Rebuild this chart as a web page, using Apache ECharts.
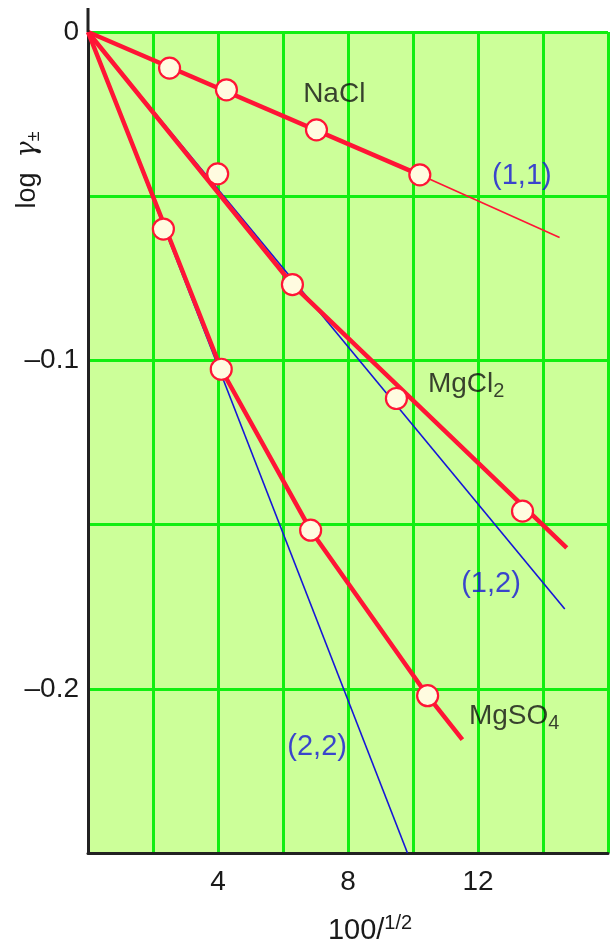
<!DOCTYPE html>
<html>
<head>
<meta charset="utf-8">
<script src="https://cdn.jsdelivr.net/npm/echarts@6/dist/echarts.min.js"></script>
<style>
html,body{margin:0;padding:0;background:#fff;}
#c{width:611px;height:942px;}
</style>
</head>
<body>
<div id="c"></div>
<script>
// ---- data ----
const naclX = [2.51, 4.26, 7.03, 10.21];
const naclY = [-0.0110, -0.0176, -0.0298, -0.0435];
const mgcl2X = [3.99, 6.29, 9.49, 13.37];
const mgcl2Y = [-0.0432, -0.0769, -0.1116, -0.1459];
const mgso4X = [2.32, 4.10, 6.85, 10.45];
const mgso4Y = [-0.0600, -0.1027, -0.1517, -0.2021];

const naclLineX = [0, 10.21];
const naclLineY = [0, -0.0435];
const naclExtX = [10.21, 14.51];
const naclExtY = [-0.0435, -0.0626];
const mgcl2LineX = [0, 6.29, 14.73];
const mgcl2LineY = [0, -0.0769, -0.1571];
const mgso4LineX = [0, 4.10, 6.85, 10.45, 11.52];
const mgso4LineY = [0, -0.1027, -0.1517, -0.2021, -0.2155];
const lim12X = [0, 14.67];
const lim12Y = [0, -0.1757];
const lim22X = [0, 9.83];
const lim22Y = [0, -0.25];

const xTickLabels = [4, 8, 12];
const yTickLabels = [0, -0.1, -0.2];

const saltNames = ['NaCl', 'MgCl{s|2}', 'MgSO{s|4}'];
const saltLabelX = [6.62, 10.46, 11.72];
const saltLabelY = [-0.0191, -0.1073, -0.2085];
const limNames = ['(1,1)', '(1,2)', '(2,2)'];
const limLabelX = [13.35, 12.4, 7.05];
const limLabelY = [-0.0438, -0.168, -0.2176];

// ---- build ----
const zip = (xs, ys) => xs.map((x, i) => [x, ys[i]]);
const RED = '#ff1535';
const BLUE = '#1515d8';
const FONT = '"Liberation Sans", Arial, sans-serif';

const chart = echarts.init(document.getElementById('c'), null, {renderer: 'canvas'});
const gridLeft = 88, gridTop = 32, gridBottom = 89;

const option = {
  animation: false,
  backgroundColor: '#ffffff',
  grid: {left: gridLeft, right: 0, top: gridTop, bottom: gridBottom, show: true,
         backgroundColor: '#ccff99', borderWidth: 0},
  xAxis: {
    type: 'value', min: 0, max: 16, interval: 2,
    axisLine: {show: true, onZero: false, lineStyle: {color: '#222', width: 3}},
    axisTick: {show: false},
    splitLine: {show: true, lineStyle: {color: '#11ee11', width: 3}},
    axisLabel: {
      margin: 15, fontSize: 28, color: '#1a1a1a', fontFamily: FONT,
      formatter: v => xTickLabels.indexOf(Math.round(v)) >= 0 && Math.abs(v - Math.round(v)) < 1e-6 ? String(Math.round(v)) : ''
    }
  },
  yAxis: {
    type: 'value', min: -0.25, max: 0, interval: 0.05,
    axisLine: {show: true, onZero: false, lineStyle: {color: '#222', width: 3}},
    axisTick: {show: false},
    splitLine: {show: true, lineStyle: {color: '#11ee11', width: 3}},
    axisLabel: {
      margin: 9, fontSize: 28, color: '#1a1a1a', fontFamily: FONT,
      formatter: v => {
        const hit = yTickLabels.find(t => Math.abs(t - v) < 1e-6);
        if (hit === undefined) return '';
        return hit === 0 ? '0' : '\u2013' + Math.abs(hit).toFixed(1);
      }
    }
  },
  series: [
    {type: 'line', data: zip(lim12X, lim12Y), symbol: 'none', lineStyle: {color: BLUE, width: 1.6}, z: 2, silent: true},
    {type: 'line', data: zip(lim22X, lim22Y), symbol: 'none', lineStyle: {color: BLUE, width: 1.6}, z: 2, silent: true},
    {type: 'line', data: zip(naclExtX, naclExtY), symbol: 'none', lineStyle: {color: RED, width: 1.6}, z: 3, silent: true},
    {type: 'line', data: zip(naclLineX, naclLineY), symbol: 'none', lineStyle: {color: RED, width: 4.5}, z: 3, silent: true},
    {type: 'line', data: zip(mgcl2LineX, mgcl2LineY), symbol: 'none', lineStyle: {color: RED, width: 4.5}, z: 3, silent: true},
    {type: 'line', data: zip(mgso4LineX, mgso4LineY), symbol: 'none', lineStyle: {color: RED, width: 4.5}, z: 3, silent: true},
    {type: 'scatter', data: zip(naclX, naclY).concat(zip(mgcl2X, mgcl2Y), zip(mgso4X, mgso4Y)),
     symbol: 'circle', symbolSize: 21,
     itemStyle: {color: '#fffbe0', borderColor: RED, borderWidth: 2.2, opacity: 1}, z: 5, silent: true},
    {type: 'scatter', symbolSize: 0, z: 6, silent: true,
     data: saltNames.map((n, i) => ({value: [saltLabelX[i], saltLabelY[i]], name: n})),
     label: {show: true, position: 'inside', align: 'left', formatter: p => p.name,
             fontSize: 28, color: '#111', fontFamily: FONT,
             rich: {s: {fontSize: 20, color: '#111', fontFamily: FONT, padding: [14, 0, 0, 0]}}}
    },
    {type: 'scatter', symbolSize: 0, z: 6, silent: true,
     data: limNames.map((n, i) => ({value: [limLabelX[i], limLabelY[i]], name: n})),
     label: {show: true, position: 'inside', align: 'center', formatter: p => p.name,
             fontSize: 29, color: BLUE, fontFamily: FONT}
    }
  ],
  graphic: [
    {type: 'line', shape: {x1: gridLeft, y1: 8, x2: gridLeft, y2: gridTop}, style: {stroke: '#222', lineWidth: 3}, z: 10},
    {type: 'text', x: 28, y: 170, rotation: Math.PI / 2,
     style: {text: 'log  {g|\u03b3}{s|\u00b1}', align: 'center', verticalAlign: 'middle',
             font: '27px ' + FONT, fill: '#1a1a1a',
             rich: {g: {fontSize: 27, fontFamily: 'DejaVu Serif', fontStyle: 'italic', fill: '#1a1a1a'},
                    s: {fontSize: 18, fontFamily: FONT, fill: '#1a1a1a', padding: [12, 0, 0, 0]}}}},
    {type: 'text', x: 370, y: 931,
     style: {text: '100/{sup|1/2}', align: 'center', verticalAlign: 'middle',
             font: '29px ' + FONT, fill: '#1a1a1a',
             rich: {sup: {fontSize: 20, fontFamily: FONT, fill: '#1a1a1a', padding: [0, 0, 16, 0]}}}}
  ]
};
chart.setOption(option);
</script>
</body>
</html>
